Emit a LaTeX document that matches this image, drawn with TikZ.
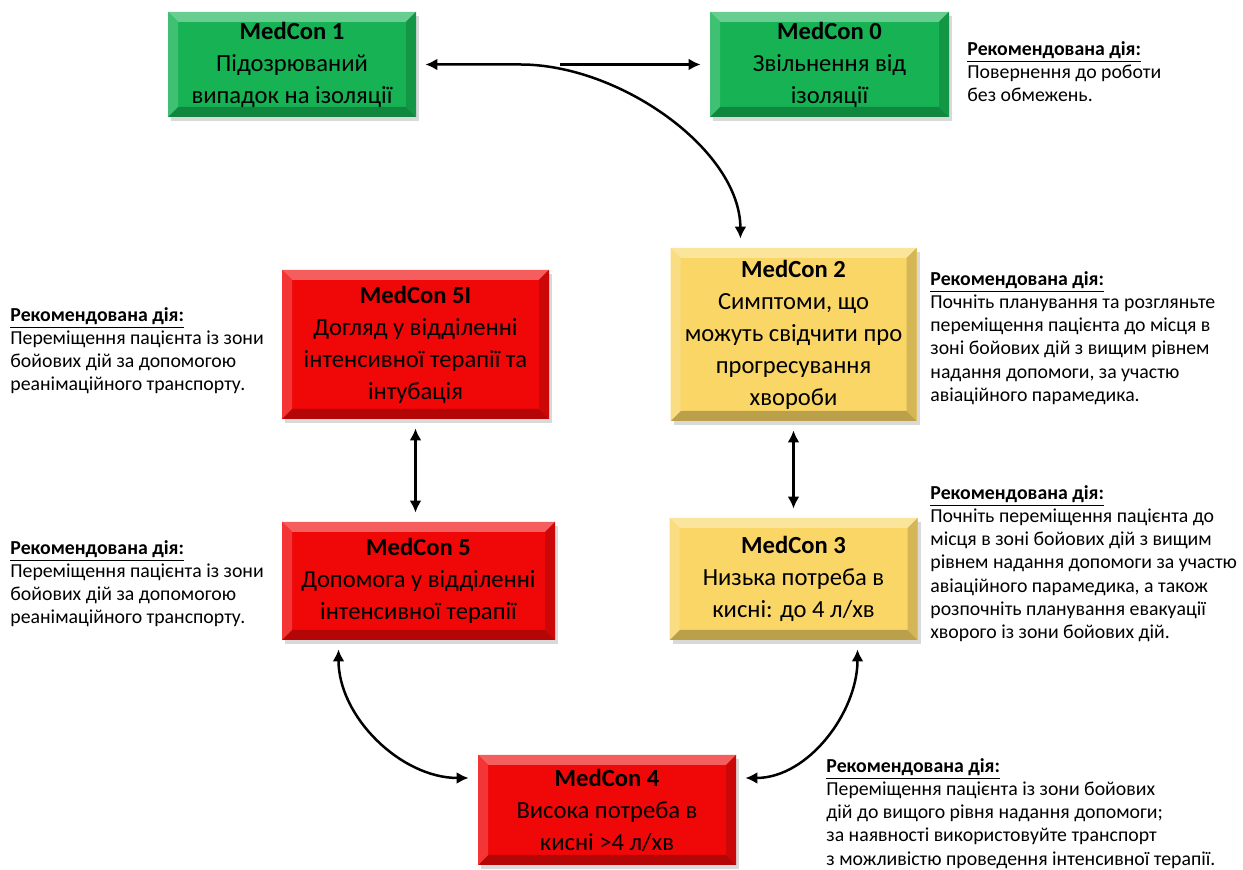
\documentclass[tikz,border=0pt]{standalone}
\usepackage{fontspec}
\setmainfont{Carlito}
\usetikzlibrary{arrows.meta,shadows}

\definecolor{conGreen}{RGB}{22,178,84}
\definecolor{conYellow}{RGB}{249,214,102}
\definecolor{conRed}{RGB}{240,8,8}

\newcommand{\recHead}{\underline{\textbf{Рекомендована дія:}}}

\begin{document}
\begin{tikzpicture}[x=0.5pt,y=-0.5pt]
% y is set to negative so that coordinates follow the pixel grid of the layout

% style
\tikzset{
    baseLine/.style={draw, line width=1.25pt},
    arrowLine/.style={baseLine, -{Latex[length=6pt, width=6pt]}, shorten >=4.5pt},
    bothLine/.style={arrowLine, {Latex[length=6pt, width=6pt]}-{Latex[length=6pt, width=6pt]}, shorten <=4.5pt},
    medBox/.style={
        fill=#1, inner sep=0pt, align=center,
        font=\fontsize{12.3}{16}\selectfont,
        drop shadow={shadow xshift=1.5pt, shadow yshift=-2pt, opacity=0.3},
        path picture={
            \coordinate (bNW) at (path picture bounding box.north west);
            \coordinate (bNE) at (path picture bounding box.north east);
            \coordinate (bSW) at (path picture bounding box.south west);
            \coordinate (bSE) at (path picture bounding box.south east);
            \fill[#1!65!white] (bNW) -- (bNE) -- ([shift={(-5pt,-5pt)}]bNE) -- ([shift={(5pt,-5pt)}]bNW) -- cycle;
            \fill[#1!75!black] (bSW) -- (bSE) -- ([shift={(-5pt,5pt)}]bSE) -- ([shift={(5pt,5pt)}]bSW) -- cycle;
            \fill[#1!82!white] (bNW) -- ([shift={(5pt,-5pt)}]bNW) -- ([shift={(5pt,5pt)}]bSW) -- (bSW) -- cycle;
            \fill[#1!85!black] (bNE) -- ([shift={(-5pt,-5pt)}]bNE) -- ([shift={(-5pt,5pt)}]bSE) -- (bSE) -- cycle;
        }
    },
    noteText/.style={anchor=north west, align=left, inner sep=0pt, font=\fontsize{9.9}{11.6}\selectfont}
}

\useasboundingbox (0,0) rectangle (1243,870);

% boxes
\node[medBox=conGreen, minimum width=124pt, minimum height=52.5pt] (m1) at (292,64.5)
    {\textbf{MedCon 1}\\Підозрюваний\\випадок на ізоляції};
\node[medBox=conGreen, minimum width=119.5pt, minimum height=52.5pt] (m0) at (829.5,64.5)
    {\textbf{MedCon 0}\\Звільнення від\\ізоляції};
\node[medBox=conYellow, minimum width=123pt, minimum height=86.5pt] (m2) at (793.5,334.5)
    {\textbf{MedCon 2}\\Симптоми, що\\можуть свідчити про\\прогресування\\хвороби};
\node[medBox=conRed, minimum width=133.5pt, minimum height=74.5pt] (m5I) at (415.5,344.5)
    {\textbf{MedCon 5I}\\Догляд у відділенні\\інтенсивної терапії та\\інтубація};
\node[medBox=conRed, minimum width=136.5pt, minimum height=59pt] (m5) at (418.5,581)
    {\textbf{MedCon 5}\\Допомога у відділенні\\інтенсивної терапії};
\node[medBox=conYellow, minimum width=124pt, minimum height=61pt] (m3) at (793.5,579)
    {\textbf{MedCon 3}\\Низька потреба в\\кисні: до 4 л/хв};
\node[medBox=conRed, minimum width=129pt, minimum height=55pt] (m4) at (607,810)
    {\textbf{MedCon 4}\\Висока потреба в\\кисні >4 л/хв};

% notes
\node[noteText] (n0) at (967,41) {\recHead\\Повернення до роботи\\без обмежень.};
\node[noteText] (n2) at (930,271) {\recHead\\Почніть планування та розгляньте\\переміщення пацієнта до місця в\\зоні бойових дій з вищим рівнем\\надання допомоги, за участю\\авіаційного парамедика.};
\node[noteText] (n3) at (930,485) {\recHead\\Почніть переміщення пацієнта до\\місця в зоні бойових дій з вищим\\рівнем надання допомоги за участю\\авіаційного парамедика, а також\\розпочніть планування евакуації\\хворого із зони бойових дій.};
\node[noteText] (n4) at (826,758) {\recHead\\Переміщення пацієнта із зони бойових\\дій до вищого рівня надання допомоги;\\за наявності використовуйте транспорт\\з можливістю проведення інтенсивної терапії.};
\node[noteText] (n5I) at (10,307) {\recHead\\Переміщення пацієнта із зони\\бойових дій за допомогою\\реанімаційного транспорту.};
\node[noteText] (n5) at (10,540) {\recHead\\Переміщення пацієнта із зони\\бойових дій за допомогою\\реанімаційного транспорту.};

% arrows
\coordinate (fork) at (560,64.5);
\draw[bothLine] (m1.east) -- ++(104,0) .. controls (620,64.5) and (740,150) .. ([xshift=-26.5pt]m2.north);
\draw[arrowLine] (fork) -- (m0.west);
\draw[bothLine] (m2.south) -- (m3.north);
\draw[bothLine] (m5I.south) -- (m5I.south |- m5.north);
\draw[bothLine] ([xshift=-40pt]m5.south) to[out=-90, in=180] ([yshift=16pt]m4.west);
\draw[bothLine] ([xshift=32pt]m3.south) to[out=-90, in=0] ([yshift=16pt]m4.east);

\end{tikzpicture}
\end{document}
